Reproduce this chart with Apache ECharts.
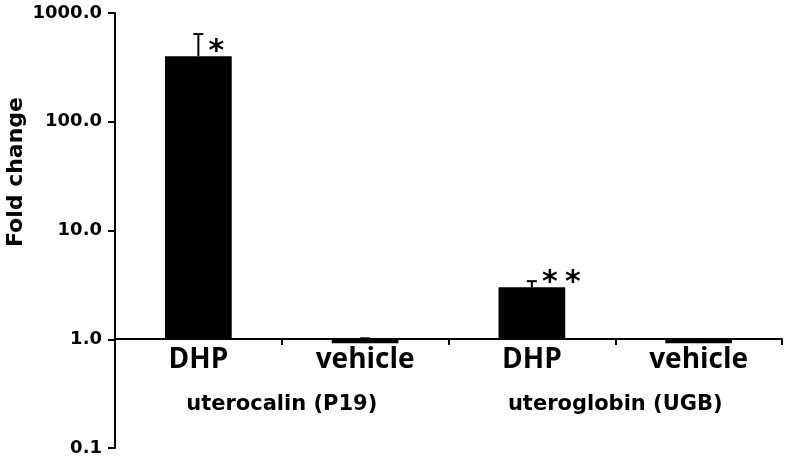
<!DOCTYPE html>
<html>
<head>
<meta charset="utf-8">
<script src="https://cdn.jsdelivr.net/npm/echarts@6/dist/echarts.min.js"></script>
<style>
  html, body { margin: 0; padding: 0; background: #fff; }
  #chart { width: 787px; height: 459px; }
</style>
</head>
<body>
<div id="chart"></div>
<script>
// data
var categories = ['DHP', 'vehicle', 'DHP', 'vehicle'];
var groups = ['uterocalin (P19)', 'uteroglobin (UGB)'];
var foldChange = [400, 0.92, 3.0, 0.92];
var errorUp = [240, 0.1, 0.42, 0.08];
var stars = ['*', '', '**', ''];
var yRange = [0.1, 1000];
var yName = 'Fold change';

var chart = echarts.init(document.getElementById('chart'));

var errData = foldChange.map(function (v, i) {
  return [i, v, v + errorUp[i]];
});

var black = '#000';
var arial = 'DejaVu Sans';

var option = {
  animation: false,
  grid: [
    { left: 115, right: 5, top: 13, bottom: 11 },
    { left: 115, right: 5, top: 13, bottom: 120 }
  ],
  xAxis: [
    {
      type: 'category',
      gridIndex: 0,
      data: categories,
      position: 'bottom',
      offset: -109,
      axisLine: { onZero: false, lineStyle: { color: black, width: 2 } },
      axisTick: { show: true, length: 6, lineStyle: { color: black, width: 2 } },
      axisLabel: {
        margin: 7,
        color: black,
        fontFamily: 'Open Sans',
        fontWeight: 'bold',
        fontSize: 28
      }
    },
    {
      type: 'category',
      gridIndex: 1,
      data: groups,
      axisLine: { show: false },
      axisTick: { show: false },
      axisLabel: {
        margin: 55,
        color: black,
        fontFamily: arial,
        fontWeight: 'bold',
        fontSize: 21
      }
    }
  ],
  yAxis: [
    {
      type: 'log',
      logBase: 10,
      gridIndex: 0,
      min: yRange[0],
      max: yRange[1],
      axisLine: { show: true, lineStyle: { color: black, width: 2 } },
      axisTick: { show: true, length: 7, lineStyle: { color: black, width: 2 } },
      splitLine: { show: false },
      axisLabel: {
        margin: 13,
        color: black,
        fontFamily: arial,
        fontWeight: 'bold',
        fontSize: 18,
        formatter: function (v) { return Number(v).toFixed(1); }
      }
    },
    { type: 'value', gridIndex: 1, show: false }
  ],
  graphic: [
    {
      type: 'text',
      x: 16,
      y: 172,
      rotation: Math.PI / 2,
      style: {
        text: yName,
        font: 'bold 22px "DejaVu Sans"',
        fill: black,
        textAlign: 'center',
        textVerticalAlign: 'middle'
      }
    }
  ],
  series: [
    {
      type: 'bar',
      xAxisIndex: 0,
      yAxisIndex: 0,
      data: foldChange,
      barWidth: '40%',
      itemStyle: { color: black }
    },
    {
      type: 'custom',
      xAxisIndex: 0,
      yAxisIndex: 0,
      data: errData,
      renderItem: function (params, api) {
        var i = api.value(0);
        var top = api.coord([i, api.value(2)]);
        var base = api.coord([i, api.value(1)]);
        var lineStyle = { stroke: black, lineWidth: 2 };
        var children = [
          { type: 'line', shape: { x1: top[0], y1: base[1], x2: top[0], y2: top[1] }, style: lineStyle },
          { type: 'line', shape: { x1: top[0] - 5, y1: top[1], x2: top[0] + 5, y2: top[1] }, style: lineStyle }
        ];
        // significance stars sit just above the bar top, right of the error bar
        var s = stars[params.dataIndex];
        for (var k = 0; k < s.length; k++) {
          children.push({
            type: 'text',
            x: top[0] + 10 + k * 23,
            y: base[1] - 4,
            style: {
              text: s.charAt(k),
              font: 'bold 30px "DejaVu Sans"',
              fill: black,
              textAlign: 'left',
              textVerticalAlign: 'middle'
            }
          });
        }
        return { type: 'group', children: children };
      },
      z: 5
    }
  ]
};

chart.setOption(option);
</script>
</body>
</html>
